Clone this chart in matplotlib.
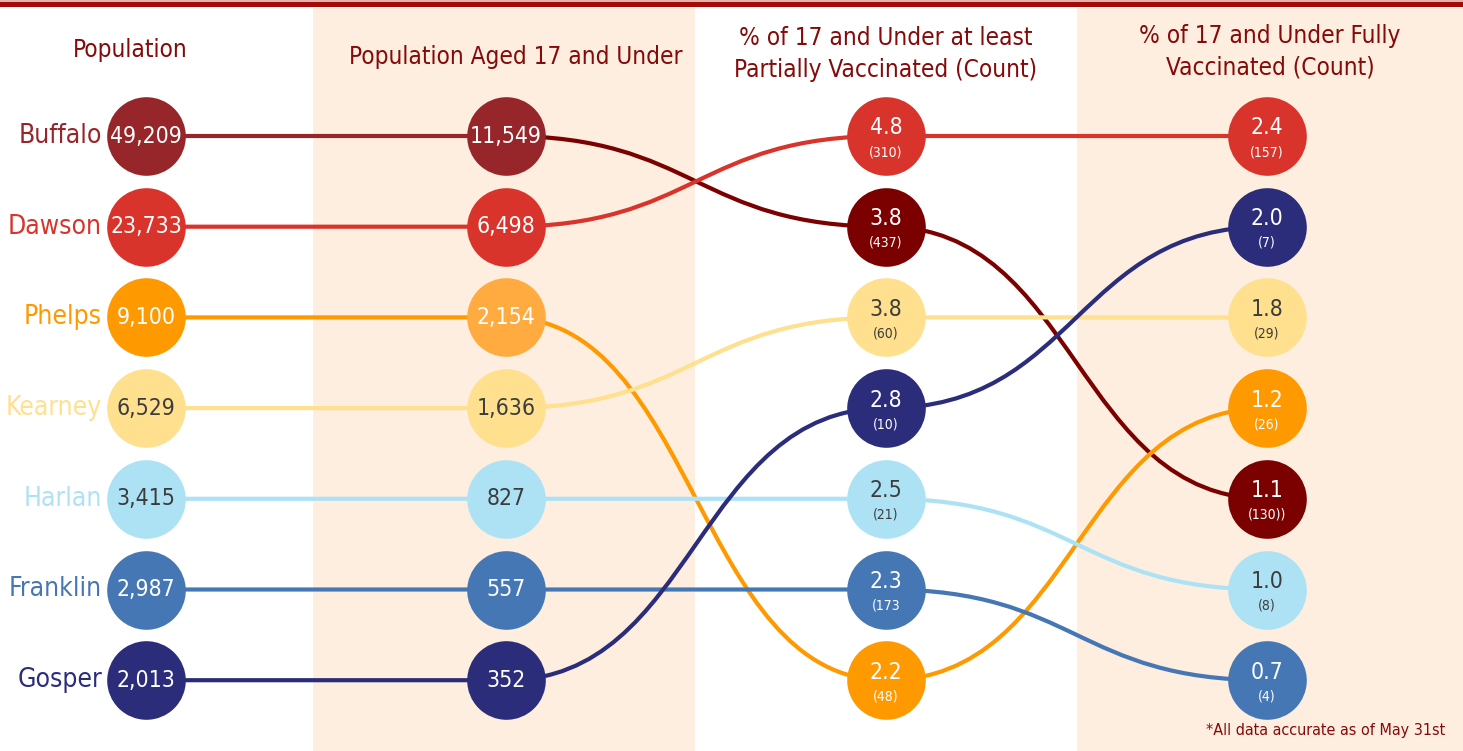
import numpy as np
import matplotlib.pyplot as plt
from matplotlib import font_manager
from matplotlib.path import Path
from matplotlib.patches import PathPatch

# pick a narrow font if there is one
names = {f.name for f in font_manager.fontManager.ttflist}
if 'Liberation Sans Narrow' in names:
    FONT = dict(family='Liberation Sans Narrow')
else:
    FONT = dict(family='DejaVu Sans', stretch='condensed')

# data
counties = ['Buffalo', 'Dawson', 'Phelps', 'Kearney', 'Harlan', 'Franklin', 'Gosper']
population = [49209, 23733, 9100, 6529, 3415, 2987, 2013]
pop_17_under = [11549, 6498, 2154, 1636, 827, 557, 352]
pct_partial = [3.8, 4.8, 2.2, 3.8, 2.5, 2.3, 2.8]
cnt_partial = ['(437)', '(310)', '(48)', '(60)', '(21)', '(173', '(10)']
pct_full = [1.1, 2.4, 1.2, 1.8, 1.0, 0.7, 2.0]
cnt_full = ['(130))', '(157)', '(26)', '(29)', '(8)', '(4)', '(7)']

headers = ['Population', 'Population Aged 17 and Under',
           '% of 17 and Under at least\nPartially Vaccinated (Count)',
           '% of 17 and Under Fully\nVaccinated (Count)']
footnote = '*All data accurate as of May 31st'

# colours per county and per column
base = ['#96262A', '#D9342B', '#FF9900', '#FFE08E', '#ADE2F5', '#4677B5', '#2B2D7A']
col_colors = [
    base,
    ['#96262A', '#D9342B', '#FFAB40', '#FFE08E', '#ADE2F5', '#4677B5', '#2B2D7A'],
    ['#7B0000', '#D9342B', '#FF9900', '#FFE08E', '#ADE2F5', '#4677B5', '#2B2D7A'],
    ['#7B0000', '#D9342B', '#FF9900', '#FFE08E', '#ADE2F5', '#4677B5', '#2B2D7A'],
]
dark_text = {'Kearney', 'Harlan'}
TITLE_C = '#850A0A'

# layout (pixels)
W, H = 1463, 751
col_x = [146, 506, 886, 1267]
y0, dy = 136, 90.7
r_pt = 28.3


def ranks(vals):
    order = sorted(range(len(vals)), key=lambda i: -vals[i])
    rk = [0] * len(vals)
    for pos, i in enumerate(order):
        rk[i] = pos
    return rk


col_rank = [ranks(population), ranks(pop_17_under), ranks(pct_partial), ranks(pct_full)]

fig = plt.figure(figsize=(W / 100, H / 100), dpi=100)
ax = fig.add_axes([0, 0, 1, 1])
ax.set_xlim(0, W)
ax.set_ylim(H, 0)
ax.axis('off')

# background bands and top rule
ax.fill_between([313, 695], 8, H, color='#FDEEDF', lw=0, zorder=0)
ax.fill_between([1077, W], 8, H, color='#FDEEDF', lw=0, zorder=0)
ax.fill_between([0, W], 0, 2, color='#E8B0A8', lw=0, zorder=0)
ax.fill_between([0, W], 2, 7, color='#A30A0A', lw=0, zorder=0)

# connecting lines
for c in range(3):
    xa, xb = col_x[c], col_x[c + 1]
    for i in range(len(counties)):
        ya = y0 + col_rank[c][i] * dy
        yb = y0 + col_rank[c + 1][i] * dy
        xm = (xa + xb) / 2
        verts = [(xa, ya), (xm, ya), (xm, yb), (xb, yb)]
        path = Path(verts, [Path.MOVETO, Path.CURVE4, Path.CURVE4, Path.CURVE4])
        ax.add_patch(PathPatch(path, fill=False, lw=3.0,
                               edgecolor=col_colors[c + 1][i] if c > 0 else col_colors[0][i],
                               zorder=2, capstyle='butt'))

# circles and labels
for c in range(4):
    for i, name in enumerate(counties):
        y = y0 + col_rank[c][i] * dy
        ax.scatter([col_x[c]], [y], s=(2 * r_pt) ** 2, color=col_colors[c][i],
                   zorder=3, linewidths=0)
        tc = '#3C3C3C' if name in dark_text else 'white'
        if c == 0:
            ax.text(col_x[c], y, f'{population[i]:,}', ha='center', va='center',
                    fontsize=16.5, color=tc, zorder=4, **FONT)
            ax.text(102, y, name, ha='right', va='center', fontsize=19,
                    color=base[i], zorder=4, **FONT)
        elif c == 1:
            ax.text(col_x[c], y, f'{pop_17_under[i]:,}', ha='center', va='center',
                    fontsize=16.5, color=tc, zorder=4, **FONT)
        else:
            pv = pct_partial if c == 2 else pct_full
            cv = cnt_partial if c == 2 else cnt_full
            ax.text(col_x[c], y - 8, f'{pv[i]:.1f}', ha='center', va='center',
                    fontsize=16.5, color=tc, zorder=4, **FONT)
            ax.text(col_x[c], y + 16, cv[i], ha='center', va='center',
                    fontsize=10, color=tc, zorder=4, **FONT)

# column headers
hdr_pos = [(130, 50), (516, 57), (886, 54), (1270, 52)]
for (hx, hy), txt in zip(hdr_pos, headers):
    ax.text(hx, hy, txt, ha='center', va='center', fontsize=17.5, color=TITLE_C,
            linespacing=1.4, **FONT)

ax.text(1445, 730, footnote, ha='right', va='center', fontsize=11.5, color=TITLE_C, **FONT)

fig.savefig('out.png', dpi=100)
